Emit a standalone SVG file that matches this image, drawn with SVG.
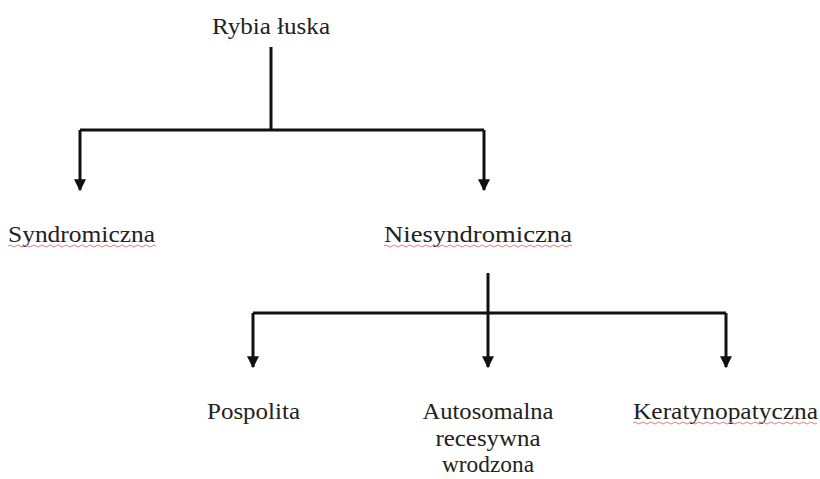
<svg xmlns="http://www.w3.org/2000/svg" width="820" height="479" viewBox="0 0 820 479">
<defs>
<style>
text{font-family:"Liberation Serif","Times New Roman",serif;font-size:24px;fill:#222;}
.ln{stroke:#111;stroke-width:3;fill:none;}
.sq{stroke:#e08080;stroke-width:1;fill:none;}
</style>
<marker id="ah" viewBox="0 0 10 10" refX="9" refY="5" markerWidth="4" markerHeight="4" orient="auto" markerUnits="strokeWidth">
<path d="M0,0 L10,5 L0,10 z" fill="#111"/>
</marker>
</defs>
<g id="connectors">
<path class="ln" d="M271,47 V130"/>
<path class="ln" d="M80,130 H484"/>
<path class="ln" d="M80,130 V190" marker-end="url(#ah)"/>
<path class="ln" d="M484,130 V190" marker-end="url(#ah)"/>
<path class="ln" d="M488,273 V367" marker-end="url(#ah)"/>
<path class="ln" d="M253,313 H726"/>
<path class="ln" d="M253,313 V367" marker-end="url(#ah)"/>
<path class="ln" d="M726,313 V367" marker-end="url(#ah)"/>
</g>
<g id="n-root"><text x="271" y="34" text-anchor="middle" textLength="118" lengthAdjust="spacingAndGlyphs">Rybia łuska</text></g>
<g id="n-syndromiczna"><text x="8" y="242" textLength="147" lengthAdjust="spacingAndGlyphs">Syndromiczna</text>
<path class="sq" d="M8,246 q2,-2 4,0 t4,0 t4,0 t4,0 t4,0 t4,0 t4,0 t4,0 t4,0 t4,0 t4,0 t4,0 t4,0 t4,0 t4,0 t4,0 t4,0 t4,0 t4,0 t4,0 t4,0 t4,0 t4,0 t4,0 t4,0 t4,0 t4,0 t4,0 t4,0 t4,0 t4,0 t4,0 t4,0 t4,0 t4,0 t4,0 t4,0"/></g>
<g id="n-niesyndromiczna"><text x="384" y="242" textLength="188" lengthAdjust="spacingAndGlyphs">Niesyndromiczna</text>
<path class="sq" d="M384,246 q2,-2 4,0 t4,0 t4,0 t4,0 t4,0 t4,0 t4,0 t4,0 t4,0 t4,0 t4,0 t4,0 t4,0 t4,0 t4,0 t4,0 t4,0 t4,0 t4,0 t4,0 t4,0 t4,0 t4,0 t4,0 t4,0 t4,0 t4,0 t4,0 t4,0 t4,0 t4,0 t4,0 t4,0 t4,0 t4,0 t4,0 t4,0 t4,0 t4,0 t4,0 t4,0 t4,0 t4,0 t4,0 t4,0 t4,0 t4,0"/></g>
<g id="n-pospolita"><text x="207" y="419" textLength="93" lengthAdjust="spacingAndGlyphs">Pospolita</text></g>
<g id="n-autosomalna"><text x="488" y="419" text-anchor="middle" textLength="131" lengthAdjust="spacingAndGlyphs">Autosomalna</text>
<text x="488" y="446" text-anchor="middle" textLength="105" lengthAdjust="spacingAndGlyphs">recesywna</text>
<text x="488" y="472" text-anchor="middle" textLength="92" lengthAdjust="spacingAndGlyphs">wrodzona</text></g>
<g id="n-keratynopatyczna"><text x="633" y="419" textLength="185" lengthAdjust="spacingAndGlyphs">Keratynopatyczna</text>
<path class="sq" d="M633,423 q2,-2 4,0 t4,0 t4,0 t4,0 t4,0 t4,0 t4,0 t4,0 t4,0 t4,0 t4,0 t4,0 t4,0 t4,0 t4,0 t4,0 t4,0 t4,0 t4,0 t4,0 t4,0 t4,0 t4,0 t4,0 t4,0 t4,0 t4,0 t4,0 t4,0 t4,0 t4,0 t4,0 t4,0 t4,0 t4,0 t4,0 t4,0 t4,0 t4,0 t4,0 t4,0 t4,0 t4,0 t4,0 t4,0 t4,0"/></g>
</svg>
